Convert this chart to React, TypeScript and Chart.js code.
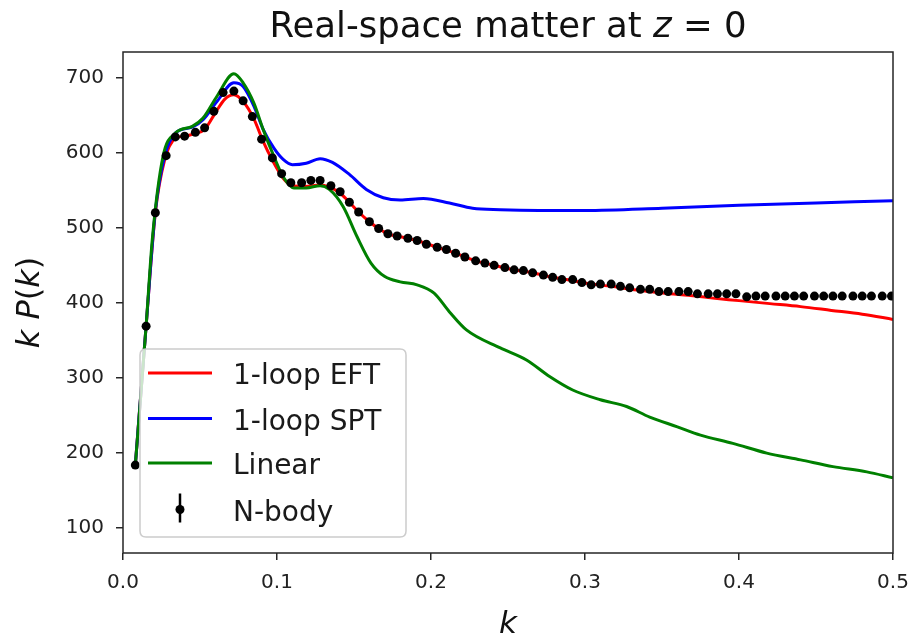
import React, { useEffect, useRef } from 'react';
import { Chart, registerables } from 'chart.js';

Chart.register(...registerables);

const FONT = '"DejaVu Sans", sans-serif';

// N-body measurements
const nbodyK = [
  0.008, 0.015, 0.021, 0.028, 0.034, 0.040, 0.047, 0.053, 0.059, 0.065,
  0.072, 0.078, 0.084, 0.090, 0.097, 0.103, 0.109, 0.116, 0.122, 0.128,
  0.135, 0.141, 0.147, 0.153, 0.160, 0.166, 0.172, 0.178, 0.185, 0.191,
  0.197, 0.204, 0.210, 0.216, 0.222, 0.229, 0.235, 0.241, 0.248, 0.254,
  0.260, 0.266, 0.273, 0.279, 0.285, 0.292, 0.298, 0.304, 0.310, 0.317,
  0.323, 0.329, 0.336, 0.342, 0.348, 0.354, 0.361, 0.367, 0.373, 0.380,
  0.386, 0.392, 0.398, 0.405, 0.411, 0.417, 0.424, 0.430, 0.436, 0.442,
  0.449, 0.455, 0.461, 0.467, 0.474, 0.480, 0.486, 0.493, 0.499,
];
const nbodyP = [
  184, 369, 520, 596, 621, 622, 627, 633, 655, 680,
  682, 669, 648, 618, 593, 572, 560, 560, 563, 563,
  556, 548, 534, 521, 508, 499, 492, 489, 486, 483,
  478, 474, 471, 466, 461, 456, 453, 450, 447, 444,
  443, 440, 437, 434, 431, 431, 427, 424, 425, 425,
  422, 420, 418, 418, 415, 415, 415, 415, 412, 412,
  412, 412, 412, 408, 409, 409, 409, 409, 409, 409,
  409, 409, 409, 409, 409, 409, 409, 409, 409,
];

// 1-loop EFT
const eftK = [
  0.008, 0.015, 0.021, 0.027, 0.034, 0.040, 0.046, 0.053, 0.060, 0.066,
  0.072, 0.078, 0.085, 0.091, 0.097, 0.104, 0.110, 0.118, 0.128, 0.134,
  0.141, 0.147, 0.153, 0.160, 0.166, 0.172, 0.180, 0.191, 0.204, 0.216,
  0.229, 0.241, 0.254, 0.266, 0.279, 0.291, 0.304, 0.317, 0.330, 0.342,
  0.355, 0.367, 0.380, 0.400, 0.420, 0.440, 0.460, 0.480, 0.500,
];
const eftP = [
  184, 369, 520, 590, 619, 622, 625, 631, 653, 671,
  677, 668, 645, 615, 590, 566, 556, 555, 557, 554,
  546, 534, 521, 508, 499, 492, 488, 483, 474, 466,
  456, 450, 444, 440, 434, 430, 425, 422, 418, 415,
  412, 410, 407, 403, 399, 395, 390, 385, 378,
];

// 1-loop SPT
const sptK = [
  0.008, 0.015, 0.021, 0.027, 0.034, 0.045, 0.052, 0.061, 0.072, 0.078,
  0.085, 0.091, 0.098, 0.104, 0.110, 0.119, 0.128, 0.136, 0.147, 0.158,
  0.169, 0.180, 0.195, 0.212, 0.227, 0.245, 0.270, 0.300, 0.350, 0.400,
  0.450, 0.500,
];
const sptP = [
  184, 369, 522, 595, 626, 634, 644, 668, 693, 688,
  662, 631, 606, 591, 584, 586, 592, 587, 571, 551,
  540, 537, 539, 533, 526, 524, 523, 523, 526, 530,
  533, 536,
];

// Linear
const linK = [
  0.008, 0.015, 0.019, 0.026, 0.034, 0.045, 0.052, 0.061, 0.072, 0.078,
  0.085, 0.091, 0.098, 0.104, 0.111, 0.119, 0.128, 0.134, 0.143, 0.152,
  0.161, 0.170, 0.180, 0.191, 0.202, 0.212, 0.223, 0.245, 0.262, 0.277,
  0.292, 0.310, 0.327, 0.342, 0.360, 0.375, 0.396, 0.418, 0.440, 0.461,
  0.483, 0.500,
];
const linP = [
  184, 369, 484, 595, 626, 635, 646, 675, 705, 693,
  666, 631, 595, 568, 553, 553, 556, 551, 528, 488,
  453, 435, 428, 424, 413, 388, 364, 340, 324, 302,
  284, 271, 262, 248, 235, 224, 213, 200, 191, 182,
  175, 167,
];

const xTicks = [0.0, 0.1, 0.2, 0.3, 0.4, 0.5];
const yTicks = [100, 200, 300, 400, 500, 600, 700];

const seriesLabels = ['1-loop EFT', '1-loop SPT', 'Linear', 'N-body'];
const seriesColors = ['#ff0000', '#0000ff', '#008000', '#000000'];

const zip = (xs: number[], ys: number[]) => xs.map((x, i) => ({ x, y: ys[i] }));

type Run = [string, boolean];

function drawRuns(ctx: CanvasRenderingContext2D, runs: Run[], size: number, cx: number, baseline: number) {
  const fontFor = (it: boolean) => `${it ? 'italic ' : ''}${size}px ${FONT}`;
  let total = 0;
  const widths = runs.map(([t, it]) => {
    ctx.font = fontFor(it);
    const w = ctx.measureText(t).width;
    total += w;
    return w;
  });
  let x = cx - total / 2;
  ctx.textAlign = 'left';
  ctx.textBaseline = 'alphabetic';
  runs.forEach(([t, it], i) => {
    ctx.font = fontFor(it);
    ctx.fillText(t, x, baseline);
    x += widths[i];
  });
}

export default function App() {
  const ref = useRef<HTMLCanvasElement>(null);

  useEffect(() => {
    const canvas = ref.current;
    if (!canvas) return;

    const mplPlugin = {
      id: 'mplDecor',
      afterDraw(chart: any) {
        const ctx: CanvasRenderingContext2D = chart.ctx;
        const a = chart.chartArea;
        const cx = (a.left + a.right) / 2;
        ctx.save();

        // spines
        ctx.strokeStyle = '#262626';
        ctx.lineWidth = 1.5;
        ctx.strokeRect(a.left, a.top, a.right - a.left, a.bottom - a.top);

        ctx.fillStyle = '#111111';
        // title
        drawRuns(ctx, [['Real-space matter at ', false], ['z', true], [' = 0', false]], 35.5, cx, 37);
        // x label
        drawRuns(ctx, [['k', true]], 31, cx, 633);
        // y label
        ctx.save();
        ctx.translate(39, (a.top + a.bottom) / 2);
        ctx.rotate(-Math.PI / 2);
        drawRuns(ctx, [['k ', true], ['P', true], ['(', false], ['k', true], [')', false]], 32, 0, 0);
        ctx.restore();

        // legend
        const lx = a.left + 17;
        const lw = 266;
        const lh = 188;
        const ly = a.bottom - 16 - lh;
        ctx.beginPath();
        const r = 6;
        ctx.moveTo(lx + r, ly);
        ctx.lineTo(lx + lw - r, ly);
        ctx.quadraticCurveTo(lx + lw, ly, lx + lw, ly + r);
        ctx.lineTo(lx + lw, ly + lh - r);
        ctx.quadraticCurveTo(lx + lw, ly + lh, lx + lw - r, ly + lh);
        ctx.lineTo(lx + r, ly + lh);
        ctx.quadraticCurveTo(lx, ly + lh, lx, ly + lh - r);
        ctx.lineTo(lx, ly + r);
        ctx.quadraticCurveTo(lx, ly, lx + r, ly);
        ctx.closePath();
        ctx.fillStyle = 'rgba(255,255,255,0.8)';
        ctx.fill();
        ctx.strokeStyle = '#cccccc';
        ctx.lineWidth = 1.5;
        ctx.stroke();

        const rows = [24, 69.5, 114, 160.5];
        const hx0 = lx + 8;
        const hx1 = lx + 72;
        const tx = lx + 93;
        seriesLabels.forEach((lab, i) => {
          const y = ly + rows[i];
          if (i < 3) {
            ctx.strokeStyle = seriesColors[i];
            ctx.lineWidth = 3;
            ctx.beginPath();
            ctx.moveTo(hx0, y);
            ctx.lineTo(hx1, y);
            ctx.stroke();
          } else {
            const mx = (hx0 + hx1) / 2;
            ctx.strokeStyle = '#000';
            ctx.lineWidth = 2.5;
            ctx.beginPath();
            ctx.moveTo(mx, y - 16);
            ctx.lineTo(mx, y + 13);
            ctx.stroke();
            ctx.fillStyle = '#000';
            ctx.beginPath();
            ctx.arc(mx, y, 4.5, 0, Math.PI * 2);
            ctx.fill();
          }
          ctx.fillStyle = '#1a1a1a';
          ctx.font = `28px ${FONT}`;
          ctx.textAlign = 'left';
          ctx.textBaseline = 'alphabetic';
          ctx.fillText(lab, tx, y + 11);
        });

        ctx.restore();
      },
    };

    const lineDs = (i: number, ks: number[], ps: number[], order: number) => ({
      type: 'line' as const,
      label: seriesLabels[i],
      data: zip(ks, ps),
      borderColor: seriesColors[i],
      backgroundColor: seriesColors[i],
      borderWidth: 3,
      pointRadius: 0,
      fill: false,
      cubicInterpolationMode: 'monotone' as const,
      order,
    });

    const chart = new Chart(canvas, {
      type: 'scatter',
      data: {
        datasets: [
          {
            type: 'scatter' as const,
            label: seriesLabels[3],
            data: zip(nbodyK, nbodyP),
            backgroundColor: '#000',
            borderColor: '#000',
            pointRadius: 4.5,
            pointBorderWidth: 0,
            showLine: false,
            order: 0,
          } as any,
          lineDs(2, linK, linP, 1),
          lineDs(1, sptK, sptP, 2),
          lineDs(0, eftK, eftP, 3),
        ],
      },
      options: {
        responsive: false,
        animation: false,
        devicePixelRatio: 1,
        layout: { padding: { left: 0, right: 20, top: 52, bottom: 0 } },
        plugins: {
          legend: { display: false },
          title: { display: false },
          tooltip: { enabled: false },
        },
        scales: {
          x: {
            type: 'linear',
            min: 0,
            max: 0.5,
            afterBuildTicks: (s: any) => {
              s.ticks = xTicks.map((v) => ({ value: v }));
            },
            afterFit: (s: any) => {
              s.height = 82;
              s.paddingLeft = 0;
              s.paddingRight = 0;
            },
            border: { display: false },
            grid: {
              drawOnChartArea: false,
              drawTicks: true,
              tickLength: 7,
              color: '#262626',
              lineWidth: 1.5,
            },
            ticks: {
              color: '#222',
              font: { family: FONT, size: 20 },
              padding: 11,
              maxRotation: 0,
              autoSkip: false,
              callback: (v: any) => Number(v).toFixed(1),
            },
          },
          y: {
            type: 'linear',
            min: 67,
            max: 734,
            afterBuildTicks: (s: any) => {
              s.ticks = yTicks.map((v) => ({ value: v }));
            },
            afterFit: (s: any) => {
              s.width = 123;
              s.paddingTop = 0;
              s.paddingBottom = 0;
            },
            border: { display: false },
            grid: {
              drawOnChartArea: false,
              drawTicks: true,
              tickLength: 7,
              color: '#262626',
              lineWidth: 1.5,
            },
            ticks: {
              color: '#222',
              font: { family: FONT, size: 20 },
              padding: 12,
              autoSkip: false,
              callback: (v: any) => String(v),
            },
          },
        },
      },
      plugins: [mplPlugin],
    });

    return () => chart.destroy();
  }, []);

  return (
    <div style={{ position: 'absolute', left: 0, top: 0, width: 913, height: 635, background: '#fff' }}>
      <canvas ref={ref} width={913} height={635} style={{ width: 913, height: 635, display: 'block' }} />
    </div>
  );
}
